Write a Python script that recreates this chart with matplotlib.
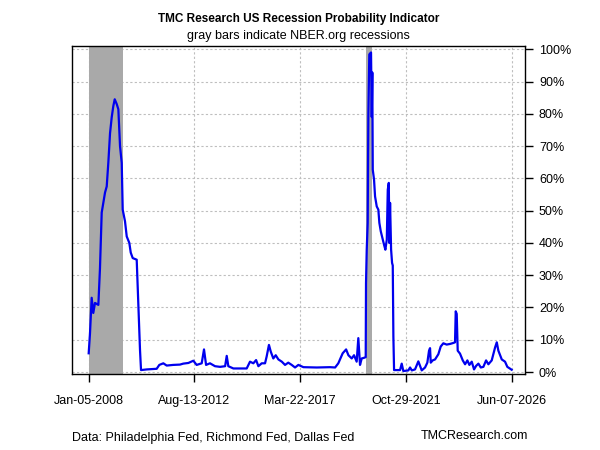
import matplotlib
matplotlib.use("Agg")
import matplotlib.pyplot as plt
import pandas as pd

plt.rcParams["font.family"] = ["Liberation Sans", "DejaVu Sans"]

# decimal year of each reading, and recession probability in %
years = [
    2008.01, 2008.067, 2008.14, 2008.21, 2008.284, 2008.43, 2008.50, 2008.576,
    2008.646, 2008.72, 2008.794, 2008.864, 2008.938, 2009.012, 2009.081, 2009.142,
    2009.23, 2009.30, 2009.373, 2009.447, 2009.49, 2009.59, 2009.665, 2009.778,
    2009.84, 2009.926, 2010.10, 2010.17, 2010.244, 2010.288, 2010.535, 2010.97,
    2011.085, 2011.26, 2011.407, 2011.69, 2011.986, 2012.13, 2012.35, 2012.566,
    2012.71, 2012.93, 2013.03, 2013.12, 2013.29, 2013.51, 2013.73, 2013.95,
    2014.02, 2014.09, 2014.31, 2014.60, 2014.89, 2015.035, 2015.18, 2015.30,
    2015.40, 2015.545, 2015.69, 2015.76, 2015.86, 2015.94, 2016.05, 2016.155,
    2016.27, 2016.42, 2016.56, 2016.70, 2016.85, 2016.995, 2017.14, 2017.36,
    2017.94, 2018.52, 2018.74, 2018.88, 2019.07, 2019.22, 2019.32, 2019.465,
    2019.565, 2019.68, 2019.752, 2019.826, 2019.90, 2020.0, 2020.074, 2020.087,
    2020.118, 2020.16, 2020.188, 2020.23, 2020.305, 2020.336, 2020.36, 2020.38,
    2020.436, 2020.48, 2020.553, 2020.623, 2020.667, 2020.728, 2020.798, 2020.872,
    2020.928, 2020.99, 2021.033, 2021.077, 2021.103, 2021.133, 2021.177, 2021.22,
    2021.25, 2021.277, 2021.307, 2021.568, 2021.64, 2021.71, 2021.93, 2022.004,
    2022.08, 2022.22, 2022.365, 2022.44, 2022.513, 2022.657, 2022.757, 2022.83,
    2022.875, 2022.905, 2022.99, 2023.093, 2023.236, 2023.34, 2023.454, 2023.60,
    2023.746, 2023.89, 2023.963, 2023.994, 2024.037, 2024.08, 2024.18, 2024.30,
    2024.40, 2024.50, 2024.587, 2024.69, 2024.79, 2024.88, 2024.98, 2025.083,
    2025.196, 2025.314, 2025.414, 2025.56, 2025.706, 2025.78, 2025.85, 2025.997,
    2026.14, 2026.24, 2026.43,
]
prob = [
    5.8, 12, 23, 18.3, 21.4, 20.8, 32, 49.4,
    52.5, 55.6, 57.5, 64.9, 74, 79, 82.4, 84.5,
    83, 81.4, 70, 64.8, 50.3, 46.7, 42, 40,
    37, 35.3, 34.8, 21.4, 6.8, 0.6, 0.8, 1.0,
    2.2, 2.7, 2.0, 2.2, 2.3, 2.6, 2.8, 3.5,
    2.2, 2.7, 7.0, 2.2, 2.7, 1.8, 1.6, 1.8,
    5.0, 1.8, 1.1, 1.1, 1.1, 3.2, 2.7, 3.7,
    1.8, 2.7, 2.7, 4.8, 8.4, 6.3, 4.2, 5.2,
    3.9, 3.2, 2.2, 2.9, 2.2, 1.4, 2.2, 1.5,
    1.4, 1.5, 1.4, 2.7, 5.8, 7.0, 5.2, 4.2,
    5.2, 3.2, 10.5, 2.2, 4.2, 4.4, 4.6, 27.5,
    37.9, 46.2, 79.3, 98.4, 99, 79, 92.8, 62.7,
    59.6, 54.4, 51.3, 50.3, 46.2, 43.6, 41.5, 39.4,
    37.9, 41, 56.5, 58.6, 40, 52.4, 38, 33.8,
    33, 11, 0.6, 0.6, 2.6, 0.3, 0.5, 1.4,
    0.5, 0.8, 3.3, 1.9, 0.5, 1.4, 2.9, 6.6,
    7.4, 2.9, 3.6, 3.9, 5.5, 7.9, 8.9, 8.5,
    8.7, 9.0, 9.2, 18.8, 18.0, 6.6, 5.7, 3.6,
    2.4, 3.6, 2.2, 3.2, 0.8, 1.9, 2.6, 1.4,
    1.6, 3.6, 2.4, 3.6, 7.6, 9.2, 6.6, 3.9,
    3.2, 1.6, 0.7,
]

recession_start = ["2008-01-05", "2020-02-01"]
recession_end = ["2009-06-30", "2020-04-30"]

tick_dates = ["2008-01-05", "2012-08-13", "2017-03-22", "2021-10-29", "2026-06-07"]
tick_labels = ["Jan-05-2008", "Aug-13-2012", "Mar-22-2017", "Oct-29-2021", "Jun-07-2026"]
y_ticks = list(range(0, 101, 10))


def to_date(y):
    yr = int(y)
    start = pd.Timestamp(yr, 1, 1)
    return start + (pd.Timestamp(yr + 1, 1, 1) - start) * (y - yr)


dates = [to_date(y) for y in years]

fig = plt.figure(figsize=(6, 4.5), dpi=100)
ax = fig.add_axes([0.12, 0.169, 0.755, 0.728])

for s, e in zip(recession_start, recession_end):
    ax.axvspan(pd.Timestamp(s), pd.Timestamp(e), color="#A9A9A9", lw=0, zorder=1)

ax.plot(dates, prob, color="#0000EE", lw=1.6, zorder=3)

ax.set_xlim(to_date(2007.283), to_date(2027.01))
ax.set_ylim(-0.6, 100.9)

ax.set_xticks([pd.Timestamp(d) for d in tick_dates])
ax.set_xticklabels(tick_labels)
ax.set_yticks(y_ticks)
ax.set_yticklabels([f"{v}%" for v in y_ticks])
ax.yaxis.tick_right()
ax.tick_params(axis="x", length=6, width=1, pad=9, labelsize=9)
ax.tick_params(axis="y", length=6, width=1, pad=4, labelsize=9)

ax.grid(True, color="#BEBEBE", linestyle=(0, (2, 2)), lw=0.8, zorder=0)
ax.set_axisbelow(True)
for sp in ax.spines.values():
    sp.set_linewidth(1)

fig.text(0.4975, 0.958, "TMC Research US Recession Probability Indicator",
         ha="center", va="center", fontsize=8.5, fontweight="bold")
fig.text(0.4975, 0.92, "gray bars indicate NBER.org recessions",
         ha="center", va="center", fontsize=9)
fig.text(0.12, 0.027, "Data: Philadelphia Fed, Richmond Fed, Dallas Fed",
         ha="left", va="center", fontsize=9)
fig.text(0.88, 0.031, "TMCResearch.com", ha="right", va="center", fontsize=9)

fig.savefig("out.png", dpi=100)
